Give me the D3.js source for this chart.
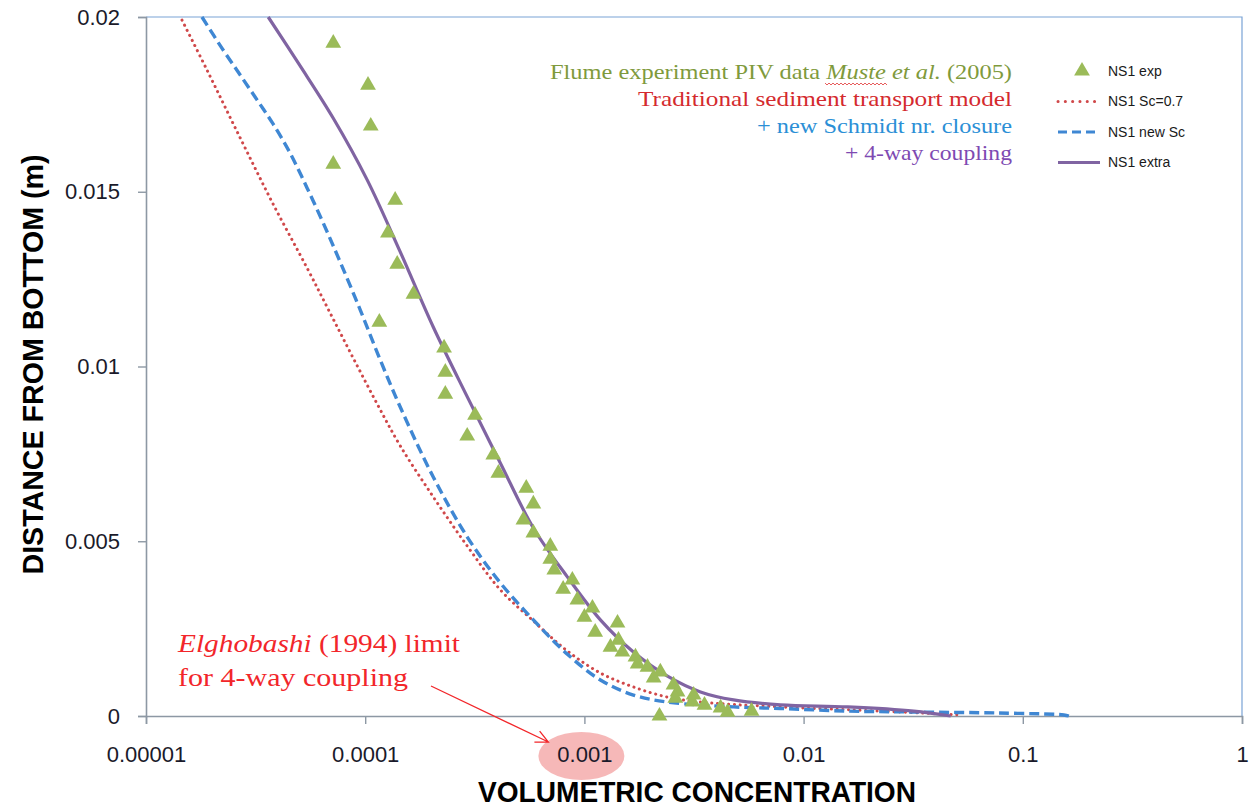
<!DOCTYPE html>
<html>
<head>
<meta charset="utf-8">
<script src="https://cdn.jsdelivr.net/npm/d3@7"></script>
<style>
  body { margin: 0; background: #ffffff; }
  svg { display: block; }
</style>
</head>
<body>
<div id="chart"></div>
<script>
// Experimental points (triangles) - volumetric concentration / distance from bottom (m)
const expConc = [7.15e-5, 1.03e-4, 1.06e-4, 7.15e-5, 1.37e-4, 1.27e-4, 1.40e-4, 1.66e-4, 1.16e-4, 2.29e-4,
                 2.32e-4, 2.32e-4, 3.17e-4, 2.92e-4, 3.84e-4, 4.05e-4, 5.43e-4, 5.85e-4, 5.27e-4, 5.85e-4,
                 6.99e-4, 6.99e-4, 7.29e-4, 8.81e-4, 8.00e-4, 9.29e-4, 1.088e-3, 1.0e-3, 1.416e-3, 1.12e-3,
                 1.43e-3, 1.315e-3, 1.49e-3, 1.71e-3, 1.75e-3, 1.94e-3, 2.22e-3, 2.07e-3, 2.55e-3, 2.66e-3,
                 2.6e-3, 3.15e-3, 3.11e-3, 3.53e-3, 4.18e-3, 4.5e-3, 5.79e-3, 2.2e-3];
const expDist = [0.01925, 0.01805, 0.01688, 0.01579, 0.01476, 0.01382, 0.01293, 0.01207, 0.01127, 0.01053,
                 0.00984, 0.00921, 0.00861, 0.00801, 0.00747, 0.00695, 0.00652, 0.00607, 0.00561, 0.00524,
                 0.00486, 0.00449, 0.00418, 0.00389, 0.00363, 0.00332, 0.00309, 0.00283, 0.00266, 0.0024,
                 0.00217, 0.00197, 0.00183, 0.00169, 0.00149, 0.0014, 0.00126, 0.00109, 0.00089, 0.00069,
                 0.00051, 0.0006, 0.0004, 0.00031, 0.00023, 0.00011, 0.00014, 0.0];

// NS1 Sc=0.7 (traditional model)
const sc07Conc = [1.46e-5, 1.899e-5, 2.69e-5, 3.80e-5, 5.43e-5, 6.92e-5, 8.82e-5, 1.134e-4, 1.445e-4, 2.044e-4,
                  2.923e-4, 4.134e-4, 5.85e-4, 8.36e-4, 1.183e-3, 1.674e-3, 2.393e-3, 3.385e-3, 7.85e-3, 2.247e-2,
                  5.21e-2];
const sc07Dist = [0.01991, 0.01848, 0.01654, 0.01465, 0.01282, 0.01153, 0.01024, 0.00893, 0.00773, 0.00627,
                  0.00486, 0.00361, 0.00272, 0.00186, 0.00123, 0.00083, 0.00054, 0.0004, 0.00026, 0.00014,
                  0.00003];

// NS1 new Sc
const newScConc = [1.80e-5, 2.22e-5, 2.69e-5, 3.21e-5, 3.80e-5, 4.54e-5, 5.43e-5, 6.43e-5, 7.69e-5, 9.49e-5,
                   1.171e-4, 1.445e-4, 2.044e-4, 2.923e-4, 4.134e-4, 5.85e-4, 8.36e-4, 1.183e-3, 1.674e-3, 2.393e-3,
                   4.79e-3, 7.85e-3, 1.588e-2, 3.18e-2, 7.69e-2, 0.1539, 0.1622];
const newScDist = [0.02, 0.01911, 0.01834, 0.01763, 0.01694, 0.01611, 0.01511, 0.01411, 0.01299, 0.01162,
                   0.01019, 0.00884, 0.00684, 0.00512, 0.00381, 0.00275, 0.00177, 0.00103, 0.0006, 0.0004,
                   0.00026, 0.000215, 0.00014, 0.000114, 0.000086, 0.00003, 0.0];

// NS1 extra (4-way coupling)
const extraConc = [3.61e-5, 5.05e-5, 7.14e-5, 1.021e-4, 1.445e-4, 2.044e-4, 2.923e-4, 4.134e-4, 5.85e-4, 8.36e-4,
                   1.183e-3, 1.674e-3, 2.393e-3, 3.385e-3, 4.79e-3, 7.85e-3, 1.588e-2, 3.18e-2, 4.69e-2];
const extraDist = [0.02, 0.0186, 0.01711, 0.01534, 0.01328, 0.01113, 0.00913, 0.00724, 0.00538, 0.00398,
                   0.00275, 0.00183, 0.00114, 0.00069, 0.00046, 0.00032, 0.00026, 0.00014, 0.0];

const xTickValues = [1e-5, 1e-4, 1e-3, 1e-2, 1e-1, 1];
const xTickLabels = ["0.00001", "0.0001", "0.001", "0.01", "0.1", "1"];
const yTickValues = [0, 0.005, 0.01, 0.015, 0.02];
const yTickLabels = ["0", "0.005", "0.01", "0.015", "0.02"];

const legendNames = ["NS1 exp", "NS1 Sc=0.7", "NS1 new Sc", "NS1 extra"];
const noteLines = ["Flume experiment PIV data", "Traditional sediment transport model",
                   "+ new Schmidt nr. closure", "+ 4-way coupling"];

function createChart_Concentration(containerId) {
    const width = 1249;
    const height = 808;
    const margin = { top: 17, right: 7, bottom: 92, left: 146 };

    const colGreen = "#9bbb59";
    const colRed = "#d0484a";
    const colBlue = "#3f87d3";
    const colPurple = "#8064a2";
    const axisGrey = "#8d98a4";
    const sansFont = "'Liberation Sans', Arial, sans-serif";
    const serifFont = "'Liberation Serif', 'DejaVu Serif', serif";

    const x = d3.scaleLog().domain([1e-5, 1]).range([margin.left, width - margin.right]);
    const y = d3.scaleLinear().domain([0, 0.02]).range([height - margin.bottom, margin.top]);

    const svg = d3.create("svg")
        .attr("width", width)
        .attr("height", height)
        .attr("viewBox", [0, 0, width, height]);

    svg.append("defs").append("clipPath").attr("id", "plotClip")
        .append("rect")
        .attr("x", margin.left).attr("y", margin.top - 2)
        .attr("width", width - margin.left - margin.right)
        .attr("height", height - margin.top - margin.bottom + 4);

    // plot frame (top + right edges, light blue)
    svg.append("path")
        .attr("fill", "none")
        .attr("stroke", "#7aa3d6")
        .attr("stroke-width", 1.2)
        .attr("d", `M${x(1e-5)},${y(0.02)}H${x(1)}V${y(0)}`);

    // X axis
    const xAxis = svg.append("g")
        .attr("transform", `translate(0,${y(0)})`)
        .call(d3.axisBottom(x)
            .tickValues(xTickValues)
            .tickFormat((d, i) => xTickLabels[i])
            .tickSize(8)
            .tickPadding(22));
    xAxis.select(".domain").attr("stroke", axisGrey).attr("stroke-width", 1.6);
    xAxis.selectAll(".tick line").attr("stroke", axisGrey).attr("stroke-width", 1.4);
    xAxis.selectAll(".tick text")
        .attr("fill", "#1a1a2a")
        .attr("font-family", sansFont)
        .attr("font-size", 22);

    // Y axis
    const yAxis = svg.append("g")
        .attr("transform", `translate(${x(1e-5)},0)`)
        .call(d3.axisLeft(y)
            .tickValues(yTickValues)
            .tickFormat((d, i) => yTickLabels[i])
            .tickSize(8)
            .tickPadding(18));
    yAxis.select(".domain").attr("stroke", axisGrey).attr("stroke-width", 1.6);
    yAxis.selectAll(".tick line").attr("stroke", axisGrey).attr("stroke-width", 1.4);
    yAxis.selectAll(".tick text")
        .attr("fill", "#1a1a2a")
        .attr("font-family", sansFont)
        .attr("font-size", 22);

    // Axis titles
    svg.append("text")
        .attr("x", (x(1e-5) + x(1)) / 2 + 3)
        .attr("y", 802)
        .attr("text-anchor", "middle")
        .attr("font-family", sansFont)
        .attr("font-weight", "bold")
        .attr("font-size", 29)
        .attr("textLength", 438)
        .attr("lengthAdjust", "spacingAndGlyphs")
        .attr("fill", "#000")
        .text("VOLUMETRIC CONCENTRATION");

    svg.append("text")
        .attr("transform", `translate(43,${(y(0) + y(0.02)) / 2 - 2}) rotate(-90)`)
        .attr("text-anchor", "middle")
        .attr("font-family", sansFont)
        .attr("font-weight", "bold")
        .attr("font-size", 29)
        .attr("textLength", 420)
        .attr("lengthAdjust", "spacingAndGlyphs")
        .attr("fill", "#000")
        .text("DISTANCE FROM BOTTOM (m)");

    // Model curves
    const lineGen = d3.line()
        .x(d => x(d[0]))
        .y(d => y(d[1]))
        .curve(d3.curveCatmullRom.alpha(0.5));

    const curves = svg.append("g").attr("clip-path", "url(#plotClip)");

    curves.append("path")
        .datum(d3.zip(sc07Conc, sc07Dist))
        .attr("fill", "none")
        .attr("stroke", colRed)
        .attr("stroke-width", 3)
        .attr("stroke-linecap", "round")
        .attr("stroke-dasharray", "0.1 5.6")
        .attr("d", lineGen);

    curves.append("path")
        .datum(d3.zip(newScConc, newScDist))
        .attr("fill", "none")
        .attr("stroke", colBlue)
        .attr("stroke-width", 3.4)
        .attr("stroke-dasharray", "10 5")
        .attr("d", lineGen);

    curves.append("path")
        .datum(d3.zip(extraConc, extraDist))
        .attr("fill", "none")
        .attr("stroke", colPurple)
        .attr("stroke-width", 3.2)
        .attr("d", lineGen);

    // Experimental triangles
    const tri = d3.symbol(d3.symbolTriangle).size(108);
    svg.append("g")
        .selectAll("path")
        .data(d3.zip(expConc, expDist))
        .join("path")
        .attr("transform", d => `translate(${x(d[0])},${y(d[1])})`)
        .attr("fill", colGreen)
        .attr("d", tri);

    // Legend
    const legend = svg.append("g").attr("transform", "translate(1058,71)");
    const legendRow = 30.5;
    legendNames.forEach((name, i) => {
        const row = legend.append("g").attr("transform", `translate(0,${i * legendRow})`);
        if (i === 0) {
            row.append("path").attr("transform", "translate(24,0)").attr("fill", colGreen).attr("d", tri);
        } else {
            const ln = row.append("line")
                .attr("x1", 0).attr("x2", 42).attr("y1", 0).attr("y2", 0)
                .attr("stroke-width", 3);
            if (i === 1) ln.attr("stroke", colRed).attr("stroke-linecap", "round").attr("stroke-dasharray", "0.1 7.2");
            if (i === 2) ln.attr("stroke", colBlue).attr("stroke-dasharray", "9 5");
            if (i === 3) ln.attr("stroke", colPurple);
        }
        row.append("text")
            .attr("x", 50)
            .attr("dy", "0.35em")
            .attr("font-family", sansFont)
            .attr("font-size", 14)
            .attr("fill", "#1a1a1a")
            .text(name);
    });

    // Description lines (top right)
    const noteRight = 1012;
    const noteColors = ["#7f9a3c", "#d42a2e", "#2b8fd6", "#7e4ab2"];
    const noteWidths = [462, 374, 255, 167];
    const noteBase = [79, 106, 133, 160];
    noteLines.forEach((line, i) => {
        const t = svg.append("text")
            .attr("x", noteRight)
            .attr("y", noteBase[i])
            .attr("text-anchor", "end")
            .attr("font-family", serifFont)
            .attr("font-size", 21)
            .attr("fill", noteColors[i]);
        if (i === 0) {
            t.append("tspan").text(line + " ");
            t.append("tspan").attr("id", "musteWord").attr("font-style", "italic").text("Muste");
            t.append("tspan").attr("font-style", "italic").text("  et al.");
            t.append("tspan").text(" (2005)");
        } else {
            t.text(line);
        }
        t.attr("textLength", noteWidths[i]).attr("lengthAdjust", "spacingAndGlyphs");
    });

    // Elghobashi annotation
    const noteRed = "#f2262a";
    const ann = svg.append("text")
        .attr("x", 178)
        .attr("y", 652)
        .attr("font-family", serifFont)
        .attr("font-size", 25)
        .attr("fill", noteRed)
        .attr("textLength", 282)
        .attr("lengthAdjust", "spacingAndGlyphs");
    ann.append("tspan").attr("font-style", "italic").text("Elghobashi");
    ann.append("tspan").text(" (1994) limit");
    svg.append("text")
        .attr("x", 178)
        .attr("y", 686)
        .attr("font-family", serifFont)
        .attr("font-size", 25)
        .attr("fill", noteRed)
        .attr("textLength", 230)
        .attr("lengthAdjust", "spacingAndGlyphs")
        .text("for 4-way coupling");

    // highlight ellipse around the 0.001 tick label (drawn under the label)
    const ex = x(1e-3) - 3;
    const ey = y(0) + 40;
    xAxis.insert("ellipse", ":first-child")
        .attr("transform", `translate(0,${-y(0)})`)
        .attr("cx", ex).attr("cy", ey)
        .attr("rx", 43).attr("ry", 24)
        .attr("fill", "#f4abab")
        .attr("fill-opacity", 0.85);

    // arrow from annotation to the ellipse
    const ax0 = 431, ay0 = 686;
    const ax1 = ex - 33, ay1 = ey - 14;
    const ang = Math.atan2(ay1 - ay0, ax1 - ax0);
    const head = 14;
    svg.append("path")
        .attr("fill", "none")
        .attr("stroke", noteRed)
        .attr("stroke-width", 1.3)
        .attr("d", `M${ax0},${ay0}L${ax1},${ay1}` +
            `M${ax1 - head * Math.cos(ang - 0.45)},${ay1 - head * Math.sin(ang - 0.45)}L${ax1},${ay1}` +
            `L${ax1 - head * Math.cos(ang + 0.45)},${ay1 - head * Math.sin(ang + 0.45)}`);

    document.getElementById(containerId).innerHTML = "";
    document.getElementById(containerId).append(svg.node());

    // red spell-check squiggle under "Muste"
    const mw = document.getElementById("musteWord");
    if (mw) {
        const bb = mw.getBBox();
        let p = `M${bb.x},${noteBase[0] + 4}`;
        for (let k = 0, xx = bb.x; xx < bb.x + bb.width; k++, xx += 2) {
            p += `L${xx + 2},${noteBase[0] + 4 + (k % 2 ? 0 : 2)}`;
        }
        d3.select(svg.node()).append("path")
            .attr("fill", "none")
            .attr("stroke", "#e03030")
            .attr("stroke-width", 0.8)
            .attr("d", p);
    }
}

createChart_Concentration("chart");
</script>
</body>
</html>
